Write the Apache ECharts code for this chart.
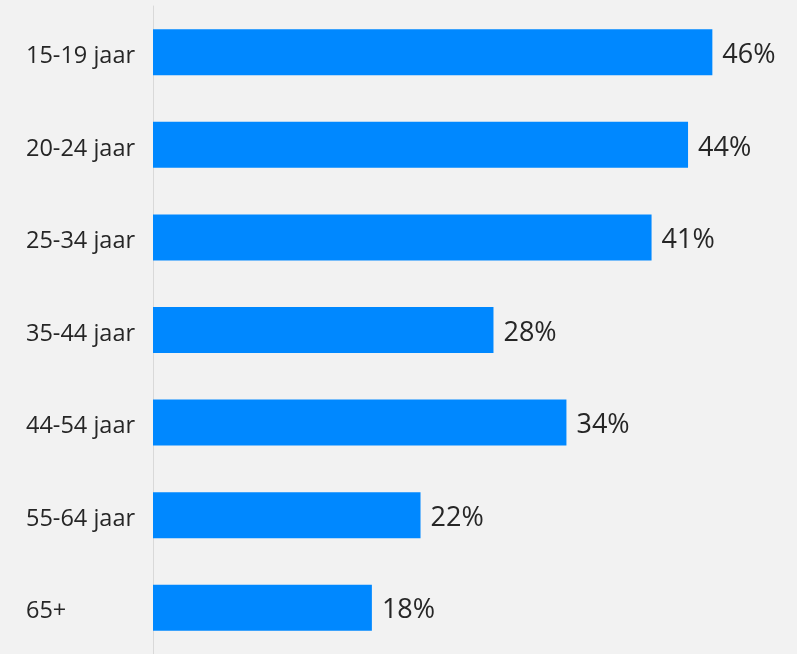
<!DOCTYPE html>
<html><head><meta charset="utf-8">
<script src="https://cdn.jsdelivr.net/npm/echarts@6/dist/echarts.min.js"></script>
<style>html,body{margin:0;padding:0;background:#f2f2f2;}#c{width:797px;height:654px;}</style>
</head><body><div id="c"></div>
<script>
const categories = ['15-19 jaar','20-24 jaar','25-34 jaar','35-44 jaar','44-54 jaar','55-64 jaar','65+'];
const values = [46, 44, 41, 28, 34, 22, 18];
const chart = echarts.init(document.getElementById('c'), null, {renderer:'canvas'});
chart.setOption({
  backgroundColor: '#f2f2f2',
  animation: false,
  grid: {left: 153, right: 36, top: 6, bottom: 0, containLabel: false},
  xAxis: {type: 'value', min: 0, max: 50, show: false},
  yAxis: {
    type: 'category', data: categories, inverse: true,
    axisLine: {show: true, lineStyle: {color: '#d9d9d9', width: 1}},
    axisTick: {show: false},
    axisLabel: {
      margin: 127, align: 'left',
      formatter: '{a|{value}}',
      rich: {a: {color: '#262626', fontSize: 23.5, fontFamily: 'Open Sans', padding: [8, 0, 0, 0]}}
    }
  },
  series: [{
    type: 'bar', data: values, barWidth: 46,
    itemStyle: {color: '#0088ff'},
    label: {show: true, position: 'right', distance: 10, offset: [0, 3], formatter: '{c}%', color: '#262626', fontSize: 27, fontFamily: 'Open Sans'}
  }]
});
</script></body></html>
